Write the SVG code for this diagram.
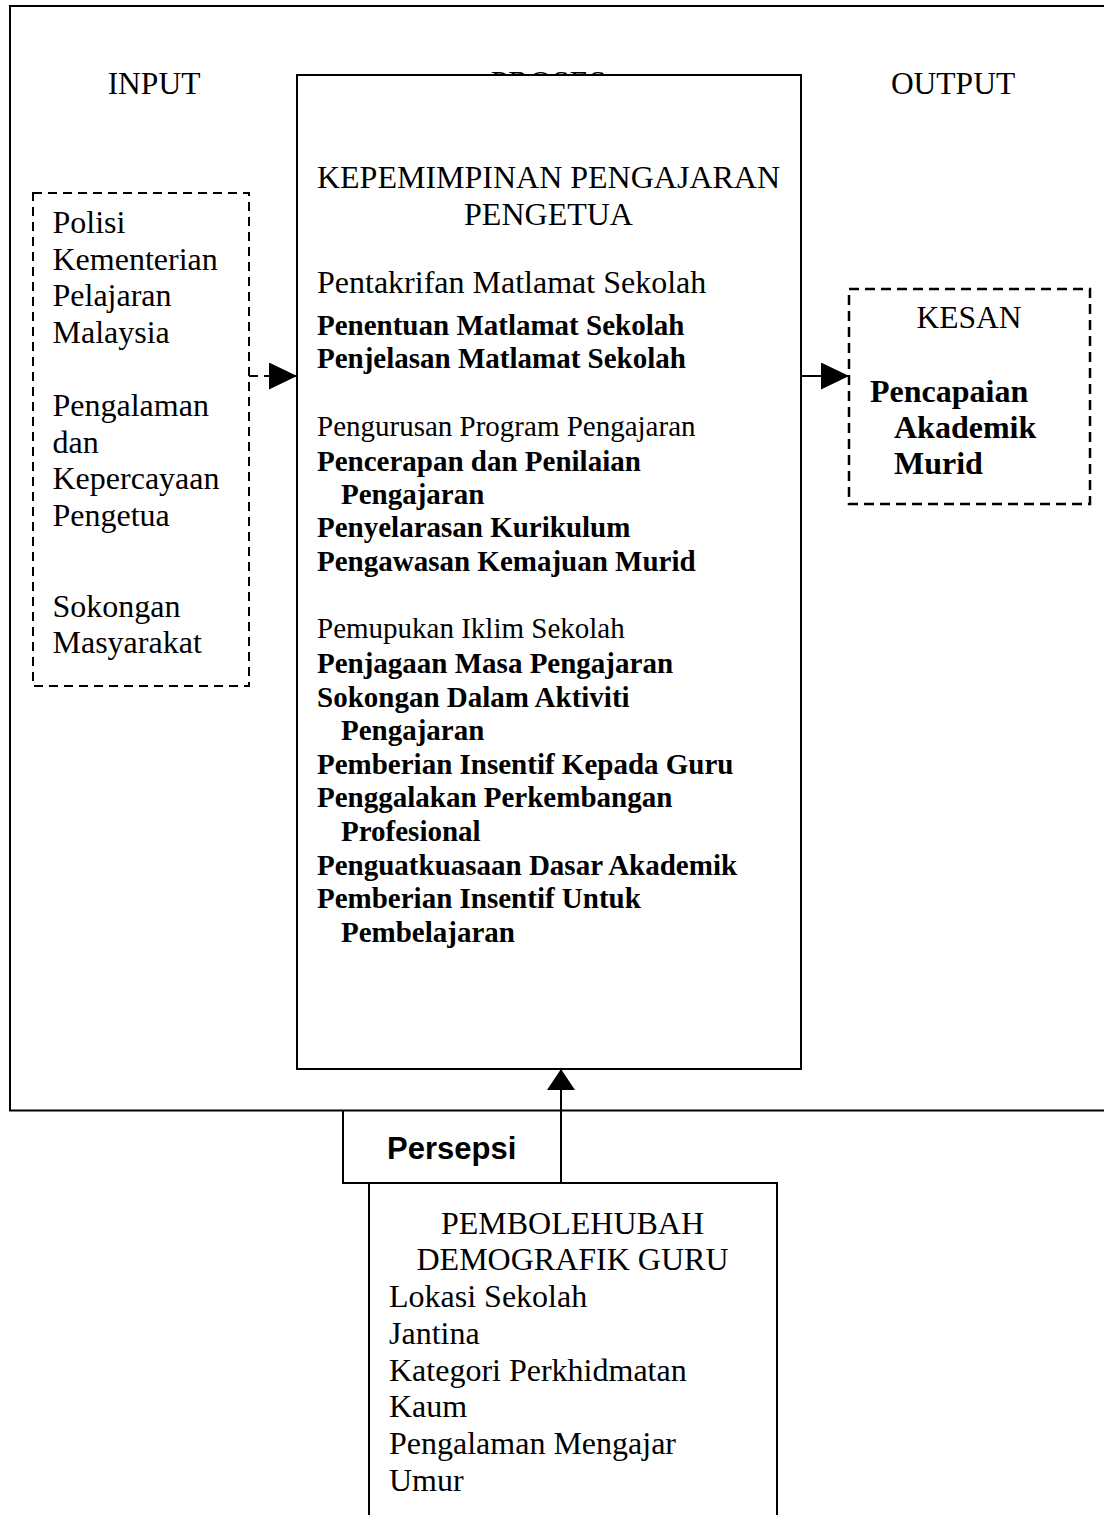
<svg xmlns="http://www.w3.org/2000/svg" width="1104" height="1515" viewBox="0 0 1104 1515">
<style>
  .t { font-family: "Liberation Serif", "Times New Roman", serif; font-size: 32px; fill: #000; }
  .h { font-size: 31.5px; }
  .s { font-size: 29px; }
  .b { font-weight: bold; font-size: 29px; }
  .bk { font-weight: bold; font-size: 32px; }
  .c { text-anchor: middle; }
  .ps { font-family: "Liberation Sans", Arial, sans-serif; font-weight: bold; font-size: 31px; fill: #000; }
  .box { fill: #fff; stroke: #000; stroke-width: 2; }
  .ln { fill: none; stroke: #000; stroke-width: 2; }
  .dash { fill: none; stroke: #000; stroke-width: 2; stroke-dasharray: 9 6; }
  .dash2 { fill: none; stroke: #000; stroke-width: 2.5; stroke-dasharray: 10 6; }
</style>
<defs>
  <marker id="ah" markerUnits="userSpaceOnUse" markerWidth="28" markerHeight="27" refX="28" refY="13.5" orient="auto">
    <path d="M0,0 L28,13.5 L0,27 z" fill="#000"/>
  </marker>
  <marker id="ahu" markerUnits="userSpaceOnUse" markerWidth="21" markerHeight="28" refX="21" refY="14" orient="auto">
    <path d="M0,0 L21,14 L0,28 z" fill="#000"/>
  </marker>
</defs>
<rect width="1104" height="1515" fill="#fff"/>

<g id="frame">
  <polyline class="ln" points="1110,6 10,6 10,1110.5 1110,1110.5"/>
</g>

<g id="input-title"><text class="t h c" x="154" y="94">INPUT</text></g>
<g id="proses-title"><text class="t h c" x="548.5" y="93">PROSES</text></g>
<g id="output-title"><text class="t h c" x="953" y="94">OUTPUT</text></g>

<g id="input-box">
  <rect class="dash" x="33" y="193" width="216" height="493"/>
  <text class="t" x="52.5" y="233">Polisi</text>
  <text class="t" x="52.5" y="270">Kementerian</text>
  <text class="t" x="52.5" y="306">Pelajaran</text>
  <text class="t" x="52.5" y="343">Malaysia</text>
  <text class="t" x="52.5" y="416">Pengalaman</text>
  <text class="t" x="52.5" y="452.5">dan</text>
  <text class="t" x="52.5" y="489">Kepercayaan</text>
  <text class="t" x="52.5" y="525.5">Pengetua</text>
  <text class="t" x="52.5" y="616.5">Sokongan</text>
  <text class="t" x="52.5" y="652.5">Masyarakat</text>
</g>

<g id="proses-box">
  <rect class="box" x="297" y="75" width="504" height="994"/>
  <text class="t c" x="548.5" y="187.5">KEPEMIMPINAN PENGAJARAN</text>
  <text class="t c" x="548.5" y="225">PENGETUA</text>
  <text class="t" x="317" y="292.5">Pentakrifan Matlamat Sekolah</text>
  <text class="t b" x="317" y="335">Penentuan Matlamat Sekolah</text>
  <text class="t b" x="317" y="368">Penjelasan Matlamat Sekolah</text>
  <text class="t s" x="317" y="436">Pengurusan Program Pengajaran</text>
  <text class="t b" x="317" y="471">Pencerapan dan Penilaian</text>
  <text class="t b" x="341" y="503.5">Pengajaran</text>
  <text class="t b" x="317" y="537">Penyelarasan Kurikulum</text>
  <text class="t b" x="317" y="570.5">Pengawasan Kemajuan Murid</text>
  <text class="t s" x="317" y="638">Pemupukan Iklim Sekolah</text>
  <text class="t b" x="317" y="673">Penjagaan Masa Pengajaran</text>
  <text class="t b" x="317" y="706.5">Sokongan Dalam Aktiviti</text>
  <text class="t b" x="341" y="739.5">Pengajaran</text>
  <text class="t b" x="317" y="773.5">Pemberian Insentif Kepada Guru</text>
  <text class="t b" x="317" y="807">Penggalakan Perkembangan</text>
  <text class="t b" x="341" y="841">Profesional</text>
  <text class="t b" x="317" y="874.5">Penguatkuasaan Dasar Akademik</text>
  <text class="t b" x="317" y="908">Pemberian Insentif Untuk</text>
  <text class="t b" x="341" y="942">Pembelajaran</text>
</g>

<g id="kesan-box">
  <rect class="dash2" x="849" y="289" width="241" height="215"/>
  <text class="t h c" x="969" y="328">KESAN</text>
  <text class="t bk" x="870" y="401.5">Pencapaian</text>
  <text class="t bk" x="894" y="438">Akademik</text>
  <text class="t bk" x="894" y="474">Murid</text>
</g>

<g id="persepsi-box">
  <polyline class="ln" points="343,1110.5 343,1183 561,1183"/>
  <text class="ps" x="387" y="1159">Persepsi</text>
</g>

<g id="demografik-box">
  <polyline class="ln" points="369,1530 369,1183 777,1183 777,1530"/>
  <text class="t c" x="572.5" y="1234">PEMBOLEHUBAH</text>
  <text class="t c" x="572.5" y="1270">DEMOGRAFIK GURU</text>
  <text class="t" x="389" y="1306.5">Lokasi Sekolah</text>
  <text class="t" x="389" y="1343.5">Jantina</text>
  <text class="t" x="389" y="1380.5">Kategori Perkhidmatan</text>
  <text class="t" x="389" y="1417">Kaum</text>
  <text class="t" x="389" y="1454">Pengalaman Mengajar</text>
  <text class="t" x="389" y="1490.5">Umur</text>
</g>

<g id="connectors">
  <line class="dash" x1="249" y1="376" x2="297" y2="376" marker-end="url(#ah)"/>
  <line class="ln" x1="801" y1="376" x2="849" y2="376" marker-end="url(#ah)"/>
  <line class="ln" x1="561" y1="1183" x2="561" y2="1069" marker-end="url(#ahu)"/>
</g>
</svg>
